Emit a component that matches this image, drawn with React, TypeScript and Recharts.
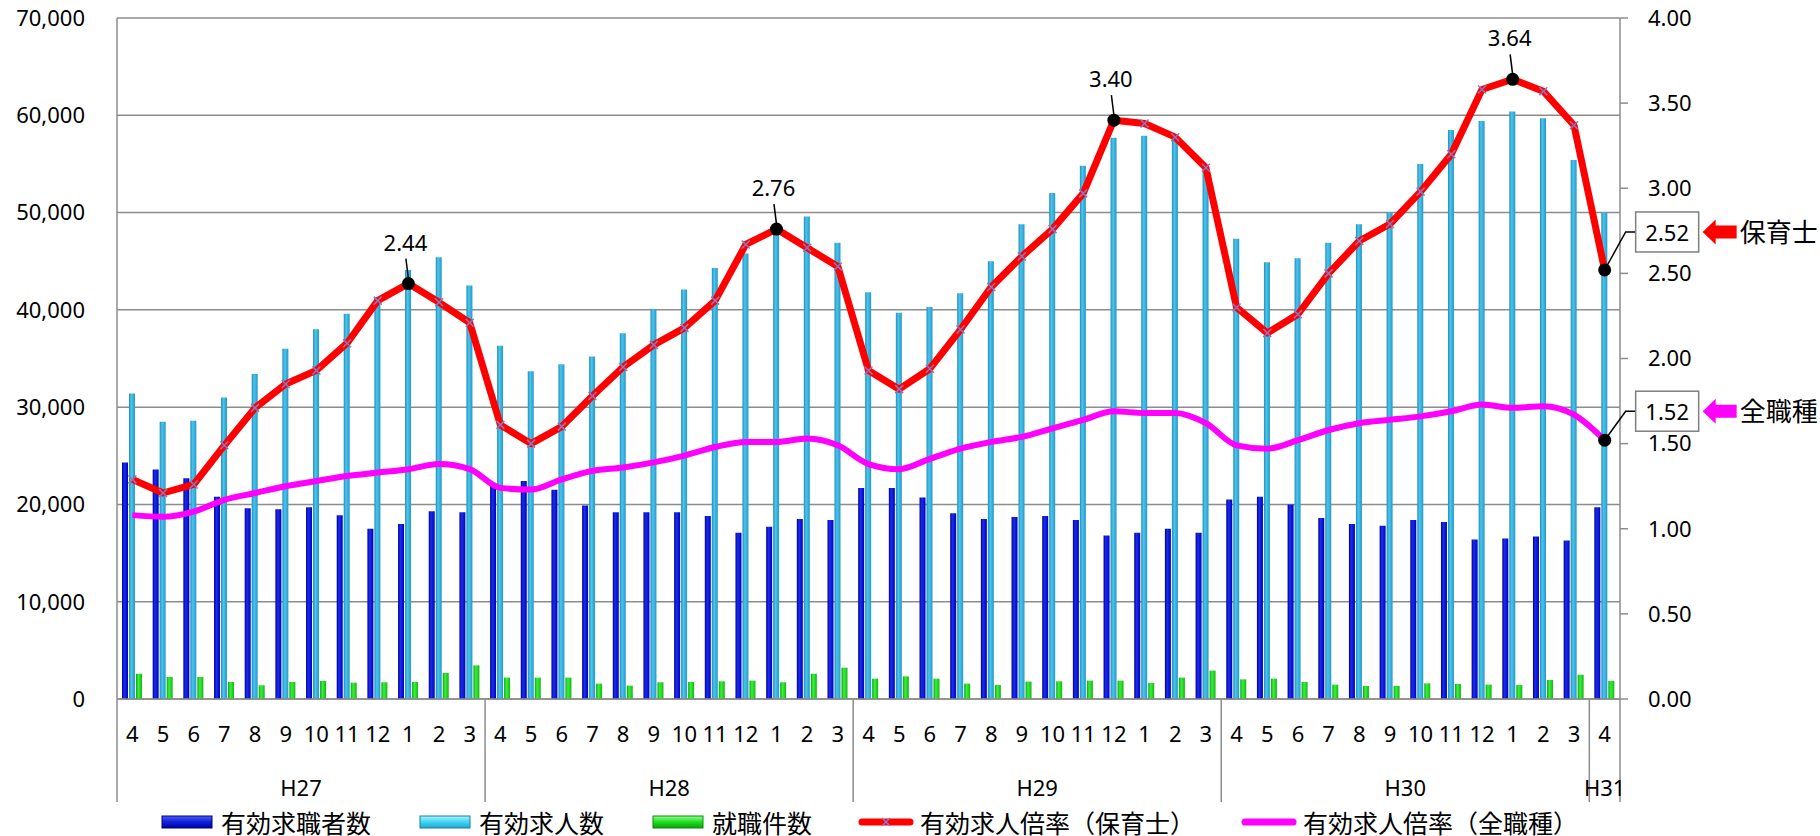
import React from "react";
import { ComposedChart, Bar, Line, XAxis, YAxis, CartesianGrid, Legend, LabelList } from "recharts";

const FONT = '"Noto Sans", "Noto Sans CJK JP", sans-serif';
const AXIS = "#8c8c8c";

const months = [
  4, 5, 6, 7, 8, 9, 10, 11, 12, 1, 2, 3,
  4, 5, 6, 7, 8, 9, 10, 11, 12, 1, 2, 3,
  4, 5, 6, 7, 8, 9, 10, 11, 12, 1, 2, 3,
  4, 5, 6, 7, 8, 9, 10, 11, 12, 1, 2, 3,
  4,
];
const fiscalYears = ["H27", "H28", "H29", "H30", "H31"];
const yearLengths = [12, 12, 12, 12, 1];

// 有効求職者数
const seekers = [
  24300, 23600, 22700, 20800, 19600, 19500, 19700, 18900, 17500, 18000, 19300, 19200,
  22000, 22400, 21500, 19900, 19200, 19200, 19200, 18800, 17100, 17700, 18500, 18400,
  21700, 21700, 20700, 19100, 18500, 18700, 18800, 18400, 16800, 17100, 17500, 17100,
  20500, 20800, 20000, 18600, 18000, 17800, 18400, 18200, 16400, 16500, 16700, 16300,
  19700,
];
// 有効求人数
const openings = [
  31400, 28500, 28600, 31000, 33400, 36000, 38000, 39600, 41300, 44100, 45400, 42500,
  36300, 33700, 34400, 35200, 37600, 40100, 42100, 44300, 45800, 47900, 49600, 46900,
  41800, 39700, 40300, 41700, 45000, 48800, 52000, 54800, 57700, 57900, 58000, 54700,
  47300, 44900, 45300, 46900, 48800, 50000, 55000, 58500, 59400, 60400, 59700, 55400,
  50000,
];
// 就職件数
const placements = [
  2600, 2260, 2260, 1750, 1410, 1750, 1850, 1680, 1720, 1750, 2670, 3460,
  2200, 2200, 2200, 1580, 1370, 1720, 1750, 1820, 1890, 1720, 2600, 3220,
  2090, 2330, 2090, 1580, 1440, 1790, 1820, 1890, 1890, 1650, 2200, 2920,
  2020, 2090, 1750, 1480, 1340, 1340, 1610, 1540, 1480, 1440, 1960, 2500,
  1850,
];
// 有効求人倍率(保育士)
const nurseryRatio = [
  1.29, 1.21, 1.26, 1.49, 1.71, 1.85, 1.93, 2.09, 2.34, 2.44, 2.33, 2.21,
  1.61, 1.50, 1.60, 1.78, 1.95, 2.08, 2.18, 2.34, 2.67, 2.76, 2.65, 2.54,
  1.93, 1.82, 1.94, 2.17, 2.42, 2.60, 2.76, 2.97, 3.40, 3.38, 3.30, 3.12,
  2.30, 2.15, 2.26, 2.50, 2.69, 2.79, 2.98, 3.20, 3.58, 3.64, 3.57, 3.37,
  2.52,
];
// 有効求人倍率(全職種)
const allRatio = [
  1.08, 1.07, 1.10, 1.17, 1.21, 1.25, 1.28, 1.31, 1.33, 1.35, 1.38, 1.35,
  1.24, 1.23, 1.29, 1.34, 1.36, 1.39, 1.43, 1.48, 1.51, 1.51, 1.53, 1.49,
  1.38, 1.35, 1.41, 1.47, 1.51, 1.54, 1.59, 1.64, 1.69, 1.68, 1.68, 1.62,
  1.49, 1.47, 1.52, 1.58, 1.62, 1.64, 1.66, 1.69, 1.73, 1.71, 1.72, 1.67,
  1.52,
];
const peakIndexes = [9, 21, 32, 45];
const leftTicks = [0, 10000, 20000, 30000, 40000, 50000, 60000, 70000];
const rightTicks = [0, 0.5, 1, 1.5, 2, 2.5, 3, 3.5, 4];

const yearOf: { year: string; pos: number; len: number }[] = [];
fiscalYears.forEach((y, k) => {
  for (let p = 0; p < yearLengths[k]; p++) yearOf.push({ year: y, pos: p, len: yearLengths[k] });
});

const data = months.map((m, i) => ({
  month: m,
  key: `${yearOf[i].year}-${m}`,
  year: yearOf[i].year,
  pos: yearOf[i].pos,
  len: yearOf[i].len,
  seekers: seekers[i],
  openings: openings[i],
  placements: placements[i],
  nursery: nurseryRatio[i],
  all: allRatio[i],
}));
const last = data.length - 1;

const renderTick = (props: any) => {
  const { x, y, payload } = props;
  const i: number = payload?.index ?? props.index;
  const half: number = payload?.offset || 15.35;
  const row = data[i];
  if (!row) return <g />;
  const mid = Math.floor((row.len - 1) / 2);
  return (
    <g>
      <text x={x} y={y + 34} textAnchor="middle" dominantBaseline="central" fontSize={22} fontFamily={FONT} fill="#000">
        {row.month}
      </text>
      {row.pos === 0 && <line x1={x - half} x2={x - half} y1={y} y2={y + 103} stroke={AXIS} strokeWidth={1.5} />}
      {i === last && <line x1={x + half} x2={x + half} y1={y} y2={y + 103} stroke={AXIS} strokeWidth={1.5} />}
      {row.pos === mid && (
        <text
          x={x + (row.len % 2 === 0 ? half : 0)}
          y={y + 88}
          textAnchor="middle"
          dominantBaseline="central"
          fontSize={22}
          fontFamily={FONT}
          fill="#000"
        >
          {row.year}
        </text>
      )}
    </g>
  );
};

const nurseryDot = (props: any) => {
  const { cx, cy, index } = props;
  if (peakIndexes.includes(index) || index === last) {
    return <circle key={`nd-${index}`} cx={cx} cy={cy} r={6.5} fill="#000" />;
  }
  const s = 4;
  return (
    <g key={`nd-${index}`} stroke="#8a78c2" strokeWidth={1.5}>
      <line x1={cx - s} y1={cy - s} x2={cx + s} y2={cy + s} />
      <line x1={cx - s} y1={cy + s} x2={cx + s} y2={cy - s} />
    </g>
  );
};

const allDot = (props: any) => {
  const { cx, cy, index } = props;
  if (index === last) return <circle key={`ad-${index}`} cx={cx} cy={cy} r={6.5} fill="#000" />;
  return <g key={`ad-${index}`} />;
};

const endBox = (x: number, y: number, value: number, dy: number, color: string, name: string) => {
  const bx = x + 31;
  const cy = y + dy;
  const bw = 63;
  const bh = 40;
  const ax = bx + bw + 4;
  return (
    <g>
      <polyline points={`${x},${y} ${x + 21},${cy} ${bx},${cy}`} fill="none" stroke="#000" strokeWidth={1.5} />
      <rect x={bx} y={cy - bh / 2} width={bw} height={bh} fill="#fff" stroke="#7f7f7f" strokeWidth={1.5} />
      <text x={bx + bw / 2} y={cy} textAnchor="middle" dominantBaseline="central" fontSize={22} fontFamily={FONT} fill="#000">
        {value.toFixed(2)}
      </text>
      <polygon
        points={`${ax},${cy} ${ax + 13},${cy - 12.5} ${ax + 13},${cy - 6.5} ${ax + 34},${cy - 6.5} ${ax + 34},${cy + 6.5} ${ax + 13},${cy + 6.5} ${ax + 13},${cy + 12.5}`}
        fill={color}
      />
      <text x={ax + 37} y={cy} dominantBaseline="central" fontSize={26} fontFamily={FONT} fill="#000">
        {name}
      </text>
    </g>
  );
};

const nurseryLabel = (props: any) => {
  const { x, y, value, index } = props;
  if (index === last) return endBox(x, y, value, -38, "#ff0000", "保育士");
  if (!peakIndexes.includes(index)) return null;
  return (
    <g>
      <line x1={x - 2.5} y1={y - 25} x2={x} y2={y - 5} stroke="#000" strokeWidth={1.5} />
      <text x={x - 3} y={y - 42} textAnchor="middle" dominantBaseline="central" fontSize={22} fontFamily={FONT} fill="#000">
        {Number(value).toFixed(2)}
      </text>
    </g>
  );
};

const allLabel = (props: any) => {
  const { x, y, value, index } = props;
  if (index !== last) return null;
  return endBox(x, y, value, -29, "#ff00ff", "全職種");
};

const legendItems = [
  { label: "有効求職者数", kind: "bar", grad: "lgSeek", border: "#00007a" },
  { label: "有効求人数", kind: "bar", grad: "lgOpen", border: "#1a7f99" },
  { label: "就職件数", kind: "bar", grad: "lgPlace", border: "#0a8a0a" },
  { label: "有効求人倍率（保育士）", kind: "line", color: "#ff0000", marker: true },
  { label: "有効求人倍率（全職種）", kind: "line", color: "#ff00ff", marker: false },
];

const renderLegend = () => (
  <div
    style={{
      display: "flex",
      justifyContent: "center",
      alignItems: "center",
      height: 29,
      gap: 46,
      fontFamily: FONT,
      fontSize: 25,
      color: "#000",
    }}
  >
    {legendItems.map((it) => (
      <div key={it.label} style={{ display: "flex", alignItems: "center", gap: 6 }}>
        <svg width={56} height={16}>
          <defs>
            <linearGradient id="lgSeek" x1="0" y1="0" x2="0" y2="1">
              <stop offset="0%" stopColor="#4a5cff" />
              <stop offset="50%" stopColor="#1020d8" />
              <stop offset="100%" stopColor="#0000a0" />
            </linearGradient>
            <linearGradient id="lgOpen" x1="0" y1="0" x2="0" y2="1">
              <stop offset="0%" stopColor="#a8f4ff" />
              <stop offset="50%" stopColor="#40d4f4" />
              <stop offset="100%" stopColor="#20a8cc" />
            </linearGradient>
            <linearGradient id="lgPlace" x1="0" y1="0" x2="0" y2="1">
              <stop offset="0%" stopColor="#90ff90" />
              <stop offset="50%" stopColor="#22dd22" />
              <stop offset="100%" stopColor="#0aa00a" />
            </linearGradient>
          </defs>
          {it.kind === "bar" ? (
            <rect x={3} y={2} width={50} height={12} fill={`url(#${it.grad})`} stroke={it.border} strokeWidth={1} />
          ) : (
            <g>
              <line x1={4} y1={8} x2={52} y2={8} stroke={it.color} strokeWidth={7} strokeLinecap="round" />
              {it.marker && (
                <g stroke="#8a78c2" strokeWidth={1.5}>
                  <line x1={24} y1={4} x2={32} y2={12} />
                  <line x1={24} y1={12} x2={32} y2={4} />
                </g>
              )}
            </g>
          )}
        </svg>
        <span>{it.label}</span>
      </div>
    ))}
  </div>
);

export default function App() {
  return (
    <div style={{ position: "absolute", left: 0, top: 0, width: 1820, height: 836, background: "#fff" }}>
      <ComposedChart width={1820} height={836} data={data} margin={{ top: 18, right: 0, bottom: 0, left: 0 }} barGap={1}>
        <defs>
          <linearGradient id="gSeek" x1="0" y1="0" x2="1" y2="0">
            <stop offset="0%" stopColor="#00009a" />
            <stop offset="40%" stopColor="#1a2cf0" />
            <stop offset="100%" stopColor="#0000b8" />
          </linearGradient>
          <linearGradient id="gOpen" x1="0" y1="0" x2="1" y2="0">
            <stop offset="0%" stopColor="#1c8fbe" />
            <stop offset="40%" stopColor="#4cc4ec" />
            <stop offset="100%" stopColor="#2299c8" />
          </linearGradient>
          <linearGradient id="gPlace" x1="0" y1="0" x2="1" y2="0">
            <stop offset="0%" stopColor="#0aa80a" />
            <stop offset="40%" stopColor="#3cf03c" />
            <stop offset="100%" stopColor="#12b812" />
          </linearGradient>
        </defs>
        <CartesianGrid yAxisId="left" vertical={false} stroke={AXIS} strokeWidth={1.5} />
        <XAxis
          dataKey="key"
          interval={0}
          tick={renderTick}
          tickLine={false}
          tickSize={0}
          tickMargin={0}
          height={108}
          axisLine={{ stroke: AXIS, strokeWidth: 1.5 }}
        />
        <YAxis
          yAxisId="left"
          domain={[0, 70000]}
          ticks={leftTicks}
          tickFormatter={(v: number) => v.toLocaleString("en-US")}
          width={117}
          tickLine={false}
          tickSize={0}
          tickMargin={32}
          axisLine={{ stroke: AXIS, strokeWidth: 1.5 }}
          tick={{ fontSize: 22, fill: "#000", fontFamily: FONT }}
        />
        <YAxis
          yAxisId="right"
          orientation="right"
          domain={[0, 4]}
          ticks={rightTicks}
          tickFormatter={(v: number) => v.toFixed(2)}
          width={200}
          tickSize={8}
          tickMargin={20}
          tickLine={{ stroke: AXIS, strokeWidth: 1.5 }}
          axisLine={{ stroke: AXIS, strokeWidth: 1.5 }}
          tick={{ fontSize: 22, fill: "#000", fontFamily: FONT, textAnchor: "start" }}
        />
        <Legend content={renderLegend} verticalAlign="bottom" wrapperStyle={{ left: 117, width: 1503 }} />
        <Bar yAxisId="left" dataKey="seekers" name="有効求職者数" fill="url(#gSeek)" barSize={6} isAnimationActive={false} />
        <Bar yAxisId="left" dataKey="openings" name="有効求人数" fill="url(#gOpen)" barSize={6} isAnimationActive={false} />
        <Bar yAxisId="left" dataKey="placements" name="就職件数" fill="url(#gPlace)" barSize={6} isAnimationActive={false} />
        <Line
          yAxisId="right"
          type="monotone"
          dataKey="all"
          name="有効求人倍率（全職種）"
          stroke="#ff00ff"
          strokeWidth={6}
          dot={allDot}
          activeDot={false}
          isAnimationActive={false}
        >
          <LabelList dataKey="all" content={allLabel} />
        </Line>
        <Line
          yAxisId="right"
          type="linear"
          dataKey="nursery"
          name="有効求人倍率（保育士）"
          stroke="#ff0000"
          strokeWidth={7}
          strokeLinejoin="round"
          dot={nurseryDot}
          activeDot={false}
          isAnimationActive={false}
        >
          <LabelList dataKey="nursery" content={nurseryLabel} />
        </Line>
      </ComposedChart>
    </div>
  );
}
